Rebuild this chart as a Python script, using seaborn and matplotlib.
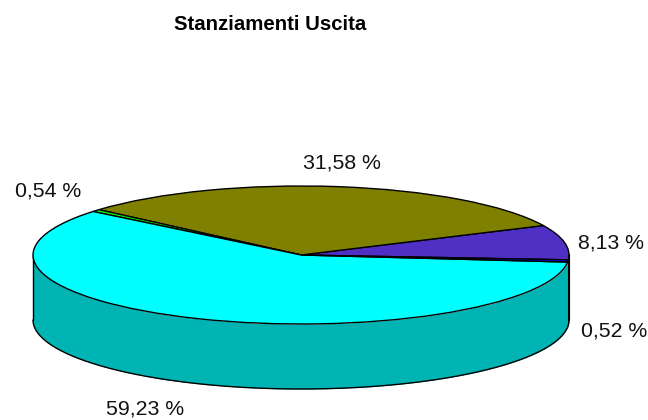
import matplotlib
matplotlib.use("Agg")
import matplotlib.pyplot as plt
import seaborn as sns
import numpy as np

labels = ["8,13 %", "31,58 %", "0,54 %", "59,23 %", "0,52 %"]
values = [8.13, 31.58, 0.54, 59.23, 0.52]
top_colors = ["#5030C4", "#808000", "#00FF00", "#00FFFF", "#0000E0"]
side_colors = ["#3A2490", "#5E5E00", "#00B400", "#00B4B4", "#000090"]
label_px = [(611, 243), (342, 163), (48, 191), (145, 409), (614, 331)]

sns.set_theme(style="white")
plt.rcParams['font.family'] = ['Liberation Sans', 'DejaVu Sans']

# ellipse geometry in pixels
cx, cy, rx, ry, depth_px = 301, 255, 268, 69, 65
depth = depth_px / ry
start = -4

fig = plt.figure(figsize=(6.48, 4.2), dpi=100)
ax = fig.add_axes([0, 0, 1, 1])

edges = start + np.cumsum([0] + values) * 3.6

# front wall, one piece per slice
for i in range(len(values)):
    a0 = edges[i] % 360
    a1 = a0 + values[i] * 3.6
    for lo, hi in [(a0, a1), (a0 - 360, a1 - 360)]:
        lo, hi = max(lo, -180), min(hi, 0)
        if hi <= lo:
            continue
        t = np.radians(np.linspace(lo, hi, 200))
        x, y = np.cos(t), np.sin(t)
        ax.fill_between(x, y, y - depth, color=side_colors[i], lw=0, zorder=1)
        ax.plot(x, y - depth, color="black", lw=1, zorder=2)

ax.plot([-1, -1], [0, -depth], color="black", lw=1, zorder=2)
ax.plot([1, 1], [0, -depth], color="black", lw=1.5, zorder=2)

wedges, _ = ax.pie(values, colors=top_colors, startangle=start, counterclock=True,
                   radius=1, center=(0, 0), frame=False,
                   wedgeprops=dict(edgecolor="black", linewidth=1, zorder=3))

ax.set_aspect("auto")
ax.set_xlim(-cx / rx, (648 - cx) / rx)
ax.set_ylim((cy - 420) / ry, cy / ry)
ax.axis("off")

fig.text(270 / 648, 1 - 25 / 420, "Stanziamenti Uscita", ha="center", va="center",
         fontsize=14.7, fontweight="bold", color="black")
for lab, (px, py) in zip(labels, label_px):
    fig.text(px / 648, 1 - py / 420, lab, ha="center", va="center", fontsize=15.3, color="#111111")

fig.savefig("out.png", dpi=100)
plt.close()
